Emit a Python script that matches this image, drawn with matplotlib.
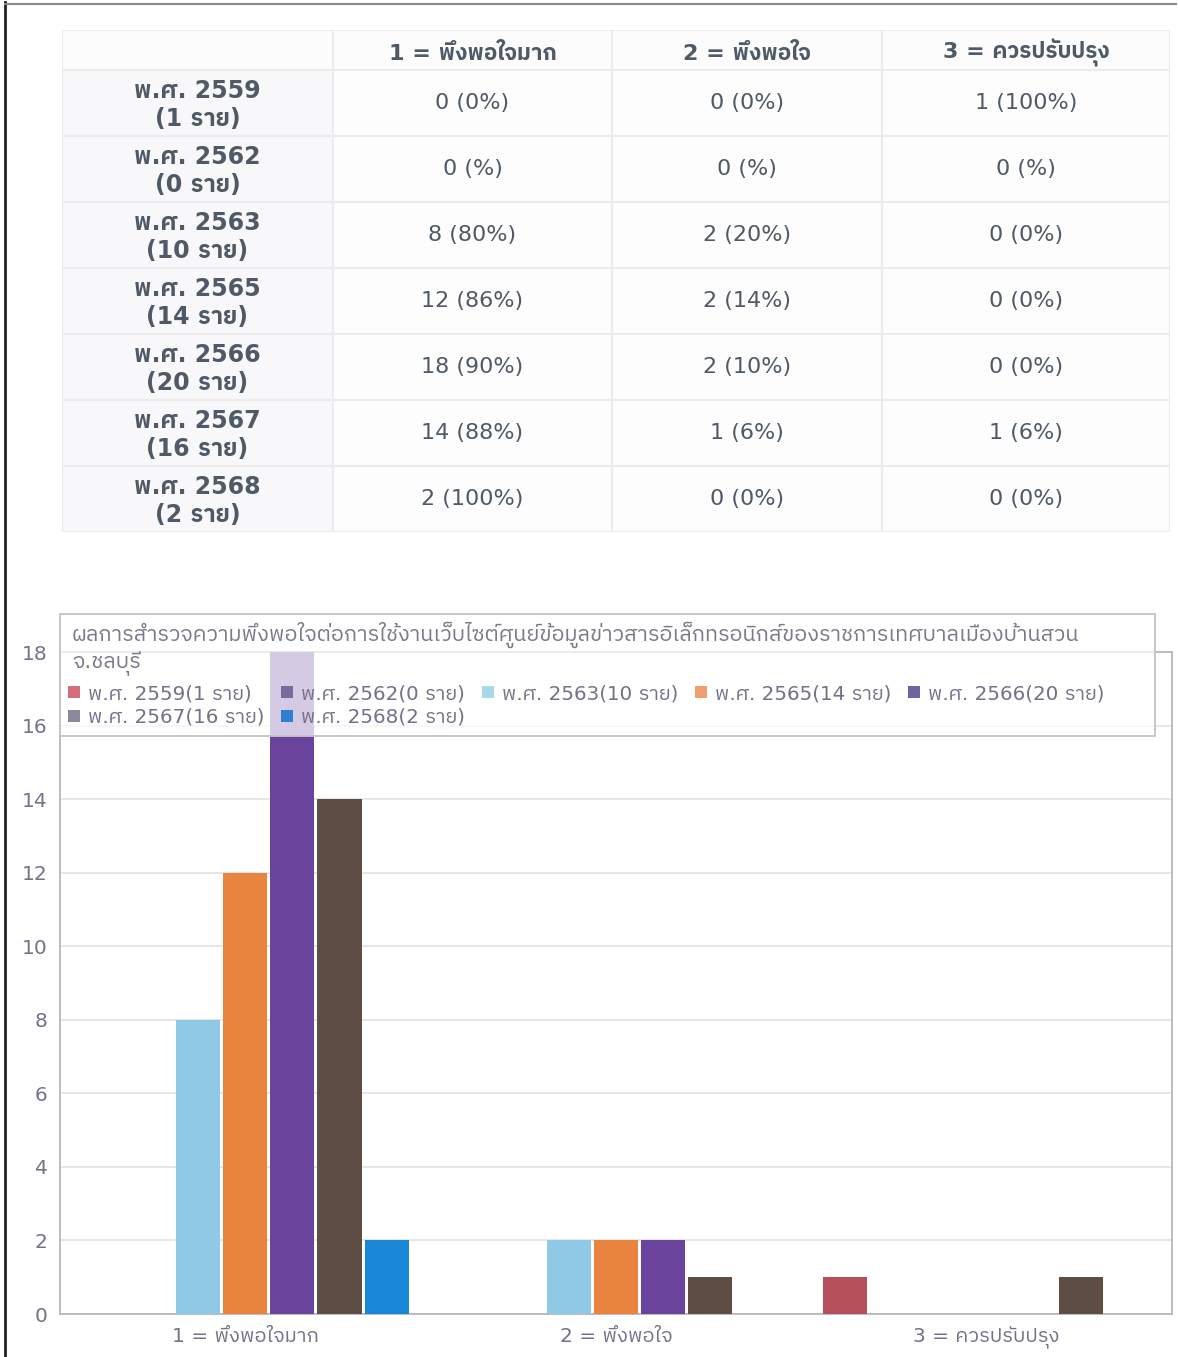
import matplotlib
matplotlib.use("Agg")
import matplotlib.pyplot as plt
from matplotlib import font_manager as fm
from matplotlib.ft2font import FT2Font
from matplotlib.patches import Rectangle, Patch
from matplotlib.lines import Line2D
import numpy as np

# ---------------- data ----------------
years = ['พ.ศ. 2559', 'พ.ศ. 2562', 'พ.ศ. 2563', 'พ.ศ. 2565', 'พ.ศ. 2566', 'พ.ศ. 2567', 'พ.ศ. 2568']
respondents = [1, 0, 10, 14, 20, 16, 2]
categories = ['1 = พึงพอใจมาก', '2 = พึงพอใจ', '3 = ควรปรับปรุง']
counts_2559 = [0, 0, 1]
counts_2562 = [0, 0, 0]
counts_2563 = [8, 2, 0]
counts_2565 = [12, 2, 0]
counts_2566 = [18, 2, 0]
counts_2567 = [14, 1, 1]
counts_2568 = [2, 0, 0]
pct_2559 = ['0%', '0%', '100%']
pct_2562 = ['%', '%', '%']
pct_2563 = ['80%', '20%', '0%']
pct_2565 = ['86%', '14%', '0%']
pct_2566 = ['90%', '10%', '0%']
pct_2567 = ['88%', '6%', '6%']
pct_2568 = ['100%', '0%', '0%']
yticks = [0, 2, 4, 6, 8, 10, 12, 14, 16, 18]
chart_title = ('ผลการสำรวจความพึงพอใจต่อการใช้งานเว็บไซต์ศูนย์ข้อมูลข่าวสารอิเล็กทรอนิกส์ของราชการเทศบาลเมืองบ้านสวน\n'
               'จ.ชลบุรี')

counts = [counts_2559, counts_2562, counts_2563, counts_2565, counts_2566, counts_2567, counts_2568]
pcts = [pct_2559, pct_2562, pct_2563, pct_2565, pct_2566, pct_2567, pct_2568]

bar_colors = ['#b5505a', '#7b6fa3', '#8fc9e6', '#e8843e', '#6a449c', '#5e4d43', '#1a86d6']
legend_colors = ['#d66d7a', '#766c9e', '#a8d8ea', '#f0a070', '#6f64a0', '#8a8a9a', '#2c80d0']

# ---------------- fonts ----------------
def find_thai_family():
    cands = []
    for f in fm.fontManager.ttflist:
        try:
            cm = FT2Font(f.fname).get_charmap()
        except Exception:
            continue
        if 0x0E1E in cm and 0x0E08 in cm and 0x0E23 in cm:
            cands.append(f.name)
    if not cands:
        return None
    cands.sort(key=lambda n: (0 if 'Thai' in n else 1, n))
    return cands[0]

thai = find_thai_family()
fams = ['DejaVu Sans'] + ([thai] if thai else [])
plt.rcParams['font.family'] = fams

W, H = 1178, 1357
fig = plt.figure(figsize=(W / 100, H / 100), dpi=100)
fig.patch.set_facecolor('white')

def fx(px):
    return px / W

def fy(py):
    return 1 - py / H

# outer frame lines
fig.add_artist(Line2D([fx(5), fx(5)], [fy(2), fy(1357)], color='#222222', lw=2.0))
fig.add_artist(Line2D([fx(5), fx(1176)], [fy(4), fy(4)], color='#888888', lw=1.5))

# ---------------- table ----------------
tx0, tx1, ty0, ty1 = 62, 1170, 30, 532
axt = fig.add_axes([fx(tx0), fy(ty1), fx(tx1) - fx(tx0), fy(ty0) - fy(ty1)])
axt.axis('off')
col_w = np.array([271, 279, 270, 288], dtype=float)
col_w = col_w / col_w.sum()
header_h = 40
row_h = (ty1 - ty0 - header_h) / len(years)
total_h = ty1 - ty0
text_col = '#4f5a66'
xs = np.concatenate([[0], np.cumsum(col_w)])
# header
for j in range(4):
    y_top = 1.0
    y_bot = 1.0 - header_h / total_h
    axt.add_patch(Rectangle((xs[j], y_bot), col_w[j], y_top - y_bot, facecolor='#fcfcfd',
                            edgecolor='#ececef', lw=1.5))
    if j > 0:
        axt.text((xs[j] + xs[j + 1]) / 2, (y_top + y_bot) / 2 - 0.006, categories[j - 1], ha='center', va='center',
                 fontsize=16, fontweight='bold', color=text_col)
for i, yr in enumerate(years):
    y_top = 1.0 - (header_h + i * row_h) / total_h
    y_bot = y_top - row_h / total_h
    yc = (y_top + y_bot) / 2
    for j in range(4):
        axt.add_patch(Rectangle((xs[j], y_bot), col_w[j], y_top - y_bot,
                                facecolor='#f8f8fa' if j == 0 else '#fdfdfe',
                                edgecolor='#ececef', lw=1.5))
    axt.text((xs[0] + xs[1]) / 2, yc - 0.004, f'{yr}\n({respondents[i]} ราย)', ha='center', va='center',
             fontsize=17, fontweight='bold', color=text_col, linespacing=1.25)
    for j in range(3):
        axt.text((xs[j + 1] + xs[j + 2]) / 2, yc, f'{counts[i][j]} ({pcts[i][j]})', ha='center', va='center',
                 fontsize=16, color=text_col)
axt.set_xlim(0, 1)
axt.set_ylim(0, 1)

# ---------------- bar chart ----------------
ax = fig.add_axes([fx(60), fy(1314), fx(1172) - fx(60), fy(652) - fy(1314)])
x = np.arange(len(categories))
slot = 0.127
bw = 0.119
n = len(years)
for i in range(n):
    ax.bar(x + (i - (n - 1) / 2) * slot, counts[i], width=bw, color=bar_colors[i], zorder=3)
ax.set_xlim(-0.5, len(categories) - 0.5)
ax.set_ylim(0, 18)
ax.set_yticks(yticks)
ax.set_yticklabels([str(v) for v in yticks])
ax.set_xticks(x)
ax.set_xticklabels(categories)
ax.grid(axis='y', color='#e2e2e6', lw=1.2, zorder=0)
ax.set_axisbelow(True)
for s in ax.spines.values():
    s.set_color('#b8b8bc')
    s.set_linewidth(1.3)
ax.tick_params(axis='both', length=0, labelsize=14.5, labelcolor='#72728a')
ax.tick_params(axis='y', pad=9)
ax.tick_params(axis='x', pad=9)

# title/legend box (semi-transparent over plot)
fig.add_artist(Rectangle((fx(60), fy(736)), fx(1155) - fx(60), fy(614) - fy(736),
                         transform=fig.transFigure, facecolor='white', alpha=0.72,
                         edgecolor='none', zorder=5))
fig.add_artist(Rectangle((fx(60), fy(736)), fx(1155) - fx(60), fy(614) - fy(736),
                         transform=fig.transFigure, facecolor='none',
                         edgecolor='#c4c4c8', lw=1.3, zorder=6))
fig.text(fx(72), fy(622), chart_title, ha='left', va='top', fontsize=15.6, color='#7a7a8c',
         linespacing=1.2, zorder=7)

labels = [f'{y}({r} ราย)' for y, r in zip(years, respondents)]
handles = [Patch(facecolor=c, edgecolor='none') for c in legend_colors]
# order so that column-major fill shows row-major order (5 per row)
order = [0, 5, 1, 6, 2, 3, 4]
leg = fig.legend([handles[k] for k in order], [labels[k] for k in order], ncol=5,
                 loc='upper left', bbox_to_anchor=(fx(68), fy(684)), frameon=False,
                 fontsize=14.3, handlelength=0.6, handleheight=0.6, handletextpad=0.4,
                 columnspacing=0.85, labelspacing=0.25, borderpad=0, borderaxespad=0)
for t in leg.get_texts():
    t.set_color('#72728a')
leg.set_zorder(8)

fig.savefig('out.png', dpi=100, facecolor='white')
